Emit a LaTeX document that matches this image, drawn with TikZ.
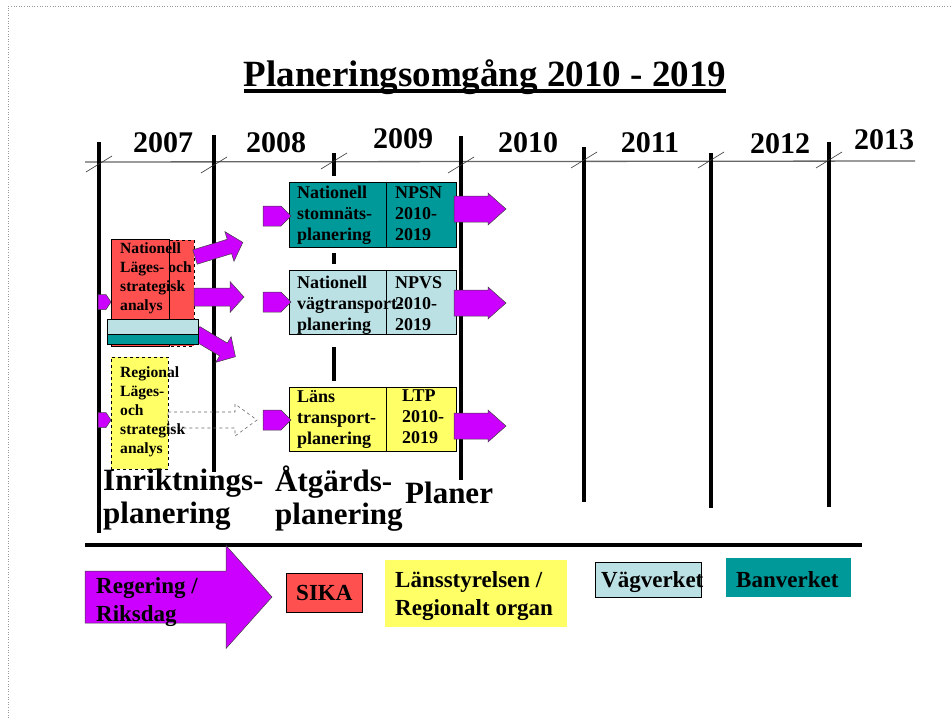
\documentclass[tikz,border=0pt]{standalone}
\usepackage{fontspec}
\setmainfont{Liberation Serif}
\usepackage{tikz}

\definecolor{pilmag}{RGB}{204,0,255}
\definecolor{bvteal}{RGB}{0,153,153}
\definecolor{vvblue}{RGB}{188,225,229}
\definecolor{sikared}{RGB}{255,80,80}
\definecolor{lyellow}{RGB}{255,255,102}

\begin{document}
\begin{tikzpicture}[
      x=1pt, y=-1pt,
      every node/.style={inner sep=0pt},
      vline/.style={line width=4pt},
      yeartick/.style={line width=0.6pt, black!80},
      year/.style={font=\fontsize{30}{30}\selectfont\bfseries, anchor=base},
      cell/.style={draw=black, line width=0.7pt, anchor=north west},
      celltxt/.style={font=\fontsize{18}{21}\selectfont\bfseries, align=left, anchor=north west},
      smalltxt/.style={font=\fontsize{15.6}{19.2}\selectfont\bfseries, align=left, anchor=north west},
      bigtxt/.style={font=\fontsize{31}{33}\selectfont\bfseries, align=left, anchor=north west},
      legtxt/.style={font=\fontsize{23}{28}\selectfont\bfseries, align=left},
      pil/.style={draw=black!75, line width=0.5pt, fill=pilmag},
      pics/fatpil/.style n args={4}{code={
        \path[pic actions] (0,-#2/2) -- (#1-#3,-#2/2) -- (#1-#3,-#4/2) -- (#1,0)
          -- (#1-#3,#4/2) -- (#1-#3,#2/2) -- (0,#2/2) -- cycle;
      }}
    ]
    \useasboundingbox (0,0) rectangle (951,718);
    \draw[black!40, dotted, line width=0.6pt] (8,718) -- (8,6) -- (951,6);

    % title
    \node[font=\fontsize{37}{37}\selectfont\bfseries, anchor=base] (titel) at (485,86) {Planeringsomgång 2010 - 2019};
    \draw[line width=3.5pt] ([yshift=-5pt]titel.base west) -- ([yshift=-5pt]titel.base east);

    % time axis
    \draw[line width=1.3pt, black!60] (85,162) -- (915,161);
    \foreach \x/\a/\b in {99/142/533, 214/135/472, 461/136/480, 584/147/502, 711/153/508, 829/142/507}
      \draw[vline] (\x,\a) -- (\x,\b);
    \foreach \a/\b in {153/176, 253/264, 347/381}
      \draw[vline] (334,\a) -- (334,\b);
    \foreach \x/\y in {99/164, 214/165, 334/161, 461/165, 584/160, 711/160, 829/160}
      \draw[yeartick] (\x-13,\y+8) -- (\x+13,\y-8);
    \foreach \t/\x/\y in {2007/163/152, 2008/276/152, 2009/403/148, 2010/528/152, 2011/650/152, 2012/780/153, 2013/884/149}
      \node[year] (y\t) at (\x,\y) {\t};

    % plan boxes
    \node[cell, fill=bvteal, minimum width=97pt, minimum height=65pt] (stom) at (289,182) {};
    \node[cell, fill=bvteal, minimum width=70pt, minimum height=65pt] (npsn) at (386,182) {};
    \node[celltxt] (stomtxt) at (297,186) {Nationell\\stomnäts-\\planering};
    \node[celltxt] (npsntxt) at (395,186) {NPSN\\2010-\\2019};

    \node[cell, fill=vvblue, minimum width=97pt, minimum height=64pt] (vag) at (289,270) {};
    \node[cell, fill=vvblue, minimum width=70pt, minimum height=64pt] (npvs) at (386,270) {};
    \node[celltxt] (vagtxt) at (297,276) {Nationell\\vägtransport-\\planering};
    \node[celltxt] (npvstxt) at (395,276) {NPVS\\2010-\\2019};

    \node[cell, fill=lyellow, minimum width=97pt, minimum height=64pt] (lans) at (289,387) {};
    \node[cell, fill=lyellow, minimum width=70pt, minimum height=64pt] (ltp) at (386,387) {};
    \node[celltxt] (lanstxt) at (297,390) {Läns\\transport-\\planering};
    \node[celltxt] (ltptxt) at (402,390) {LTP\\2010-\\2019};

    % arrows in and out
    \foreach \y in {216,302,420}
      \pic[pil] at (263,\y) {fatpil={28}{20}{10}{20}};
    \foreach \y in {209,303,426}
      \pic[pil] at (454,\y) {fatpil={52}{26}{18}{32}};
    \foreach \y in {302,420}
      \pic[pil] at (98,\y) {fatpil={13}{15}{5}{15}};

    % national analysis
    \node[cell, dashed, fill=sikared, minimum width=83pt, minimum height=106pt] (nlsa2) at (111,240) {};
    \node[cell, fill=sikared, minimum width=58pt, minimum height=107pt] (nlsa) at (111,239) {};
    \node[smalltxt] (nlsatxt) at (120,242) {Nationell\\Läges- och\\strategisk\\analys};
    \pic[pil, rotate=17] at (195,257) {fatpil={50}{15}{14}{31}};
    \pic[pil] at (194,297) {fatpil={50}{18}{14}{31}};
    \pic[pil, rotate=-31] at (196,333) {fatpil={46}{15}{14}{30}};
    \node[cell, fill=vvblue, minimum width=91pt, minimum height=15pt] (bar1) at (107,319) {};
    \node[cell, fill=bvteal, minimum width=91pt, minimum height=10pt] (bar2) at (107,334) {};

    % regional analysis
    \node[cell, dashed, fill=lyellow, minimum width=57pt, minimum height=112pt] (rlsa) at (111,357) {};
    \pic[draw=black!60, dashed, line width=0.6pt] at (168,420) {fatpil={89}{16}{22}{32}};
    \node[smalltxt] (rlsatxt) at (120,366) {Regional\\Läges-\\och\\strategisk\\analys};

    % phases
    \node[bigtxt] (inr) at (103,469) {Inriktnings-\\planering};
    \node[bigtxt] (atg) at (275,466) {Åtgärds-\\planering};
    \node[font=\fontsize{31}{32}\selectfont\bfseries, anchor=base west] (plan) at (405,503) {Planer};

    % legend
    \draw[line width=4pt] (85,545) -- (862,545);
    \pic[pil] at (85,597) {fatpil={187}{52}{46}{103}};
    \node[legtxt, anchor=north west] (reg) at (96,577) {Regering /\\Riksdag};
    \node[cell, fill=sikared, minimum width=76pt, minimum height=39pt, font=\fontsize{23}{28}\selectfont\bfseries] (sika) at (286,573) {SIKA};
    \node[fill=lyellow, anchor=north west, minimum width=182pt, minimum height=67pt] (lst) at (385,560) {};
    \node[legtxt, anchor=north west] (lsttxt) at (395,571) {Länsstyrelsen /\\Regionalt organ};
    \node[cell, fill=vvblue, minimum width=106pt, minimum height=35pt] (vv) at (595,562) {};
    \node[legtxt, anchor=base west] (vvtxt) at (601,587) {Vägverket};
    \node[fill=bvteal, anchor=north west, minimum width=125pt, minimum height=39pt] (bv) at (726,558) {};
    \node[legtxt, anchor=base west] (bvtxt) at (736,587) {Banverket};
  \end{tikzpicture}
\end{document}
